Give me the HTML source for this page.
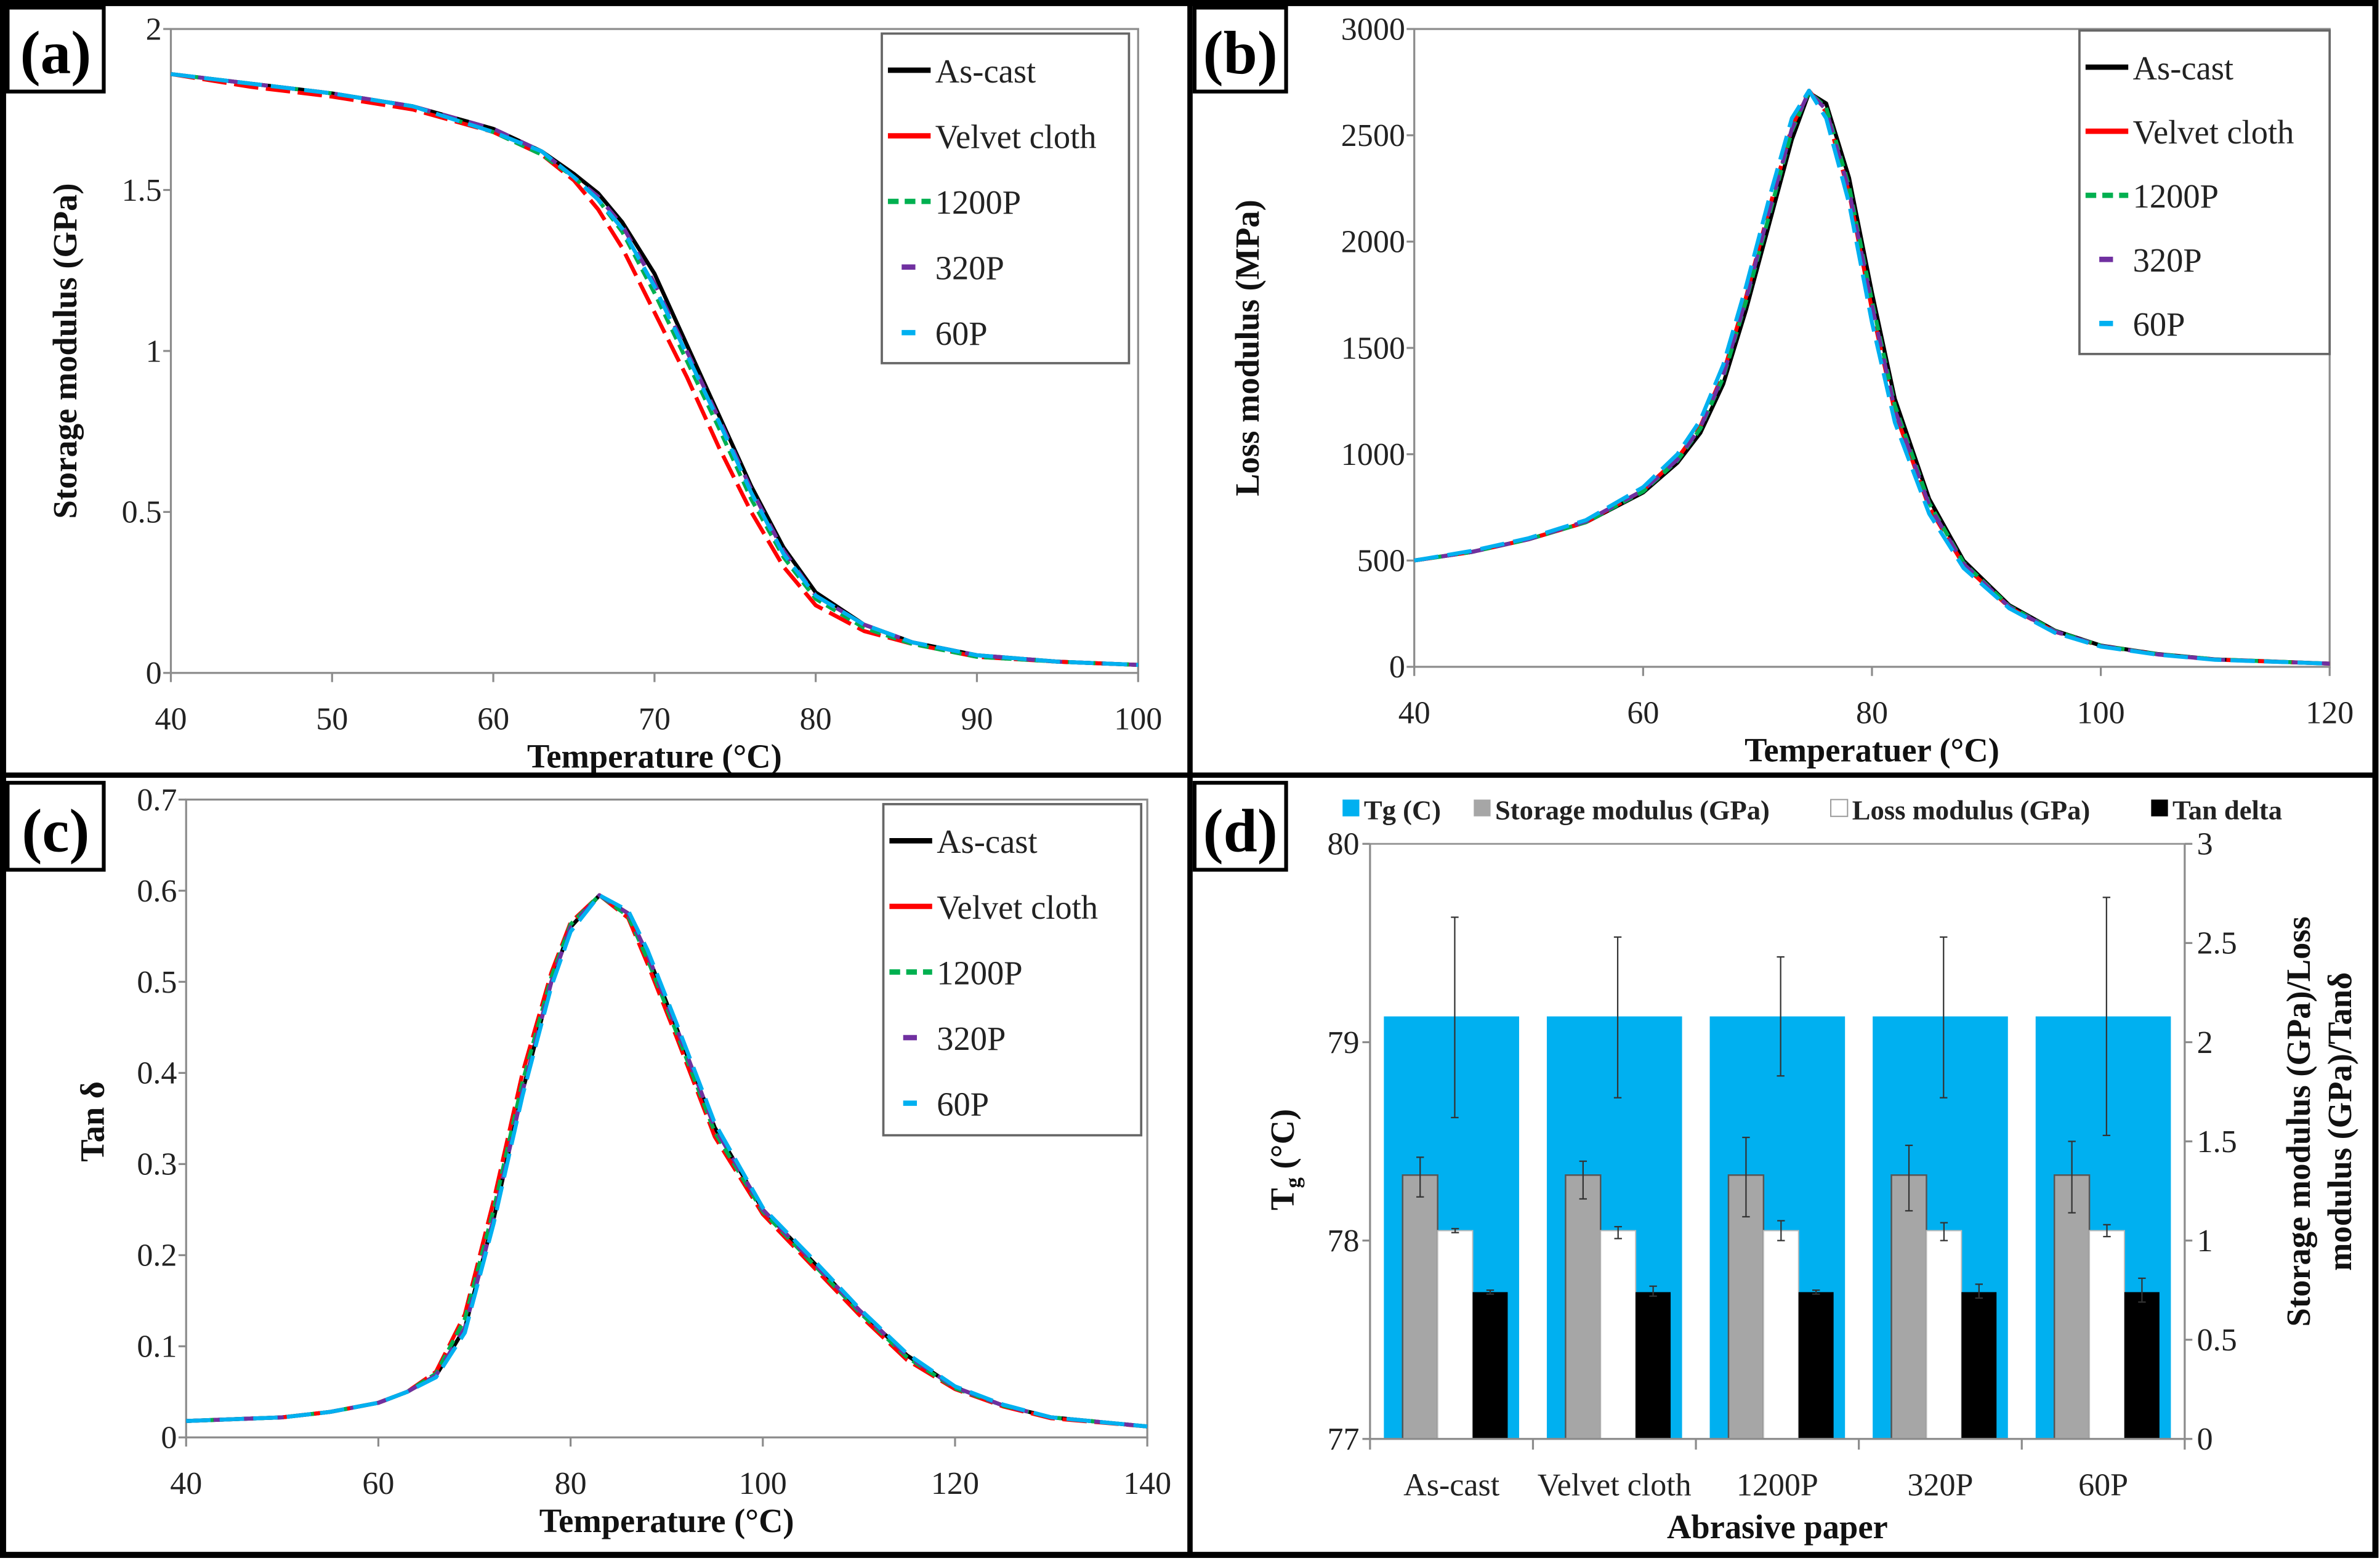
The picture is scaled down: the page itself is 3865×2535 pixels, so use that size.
<!DOCTYPE html>
<html><head><meta charset="utf-8"><style>
html,body{margin:0;padding:0;background:#fff;}
svg{display:block;font-family:"Liberation Serif","DejaVu Serif",serif;}
svg text{font-family:"Liberation Serif","DejaVu Serif",serif !important;}
</style></head><body>
<svg id="fig" width="3865" height="2535" viewBox="0 0 1560 1023" preserveAspectRatio="none" xmlns="http://www.w3.org/2000/svg" font-family="Liberation Serif, serif">
<rect x="0" y="0" width="1560" height="1023" fill="#fff"/>
</svg>
<script>
// ---------- DATA ----------
const seriesNames = ["As-cast","Velvet cloth","1200P","320P","60P"];
// Panel (a) storage modulus (GPa)
const aTemps = [40,45,50,55,60,63,65,66.5,68,70,72,74,76,78,80,83,86,90,95,100];
const aAsCast = [1.86,1.83,1.80,1.76,1.69,1.62,1.55,1.49,1.40,1.24,1.02,0.80,0.58,0.39,0.25,0.15,0.095,0.055,0.035,0.025];
const aVelvet = [1.86,1.82,1.79,1.75,1.68,1.61,1.53,1.44,1.32,1.12,0.92,0.70,0.50,0.33,0.21,0.13,0.09,0.05,0.035,0.025];
const a1200 = [1.86,1.83,1.80,1.76,1.68,1.61,1.54,1.47,1.37,1.18,0.97,0.76,0.54,0.36,0.23,0.14,0.09,0.05,0.035,0.025];
const a320 = [1.86,1.83,1.80,1.76,1.69,1.62,1.54,1.48,1.39,1.21,1.00,0.79,0.57,0.38,0.24,0.15,0.095,0.055,0.035,0.025];
const a60 = [1.86,1.83,1.80,1.76,1.68,1.62,1.54,1.47,1.38,1.20,0.99,0.78,0.56,0.37,0.24,0.15,0.095,0.055,0.035,0.025];
const aXTicks = [40,50,60,70,80,90,100];
const aYTicks = [0,0.5,1,1.5,2];
// Panel (b) loss modulus (MPa)
const bTemps = [40,45,50,55,60,63,65,67,69,71,73,74.5,76,78,80,82,85,88,92,96,100,105,110,120];
const bAsCast = [500,540,600,680,820,960,1100,1330,1680,2080,2480,2700,2650,2300,1760,1260,790,500,290,170,100,60,35,15];
const bVelvet = [500,540,600,680,830,980,1130,1380,1740,2150,2540,2710,2610,2230,1680,1200,750,480,280,165,98,58,34,15];
const b1200 = [500,540,600,680,825,970,1120,1360,1720,2120,2520,2705,2630,2260,1720,1230,770,490,285,168,99,59,35,15];
const b320 = [500,540,600,685,830,975,1125,1370,1730,2140,2530,2705,2620,2240,1700,1210,760,485,282,166,98,58,34,15];
const b60 = [500,545,605,690,845,1000,1160,1420,1790,2200,2580,2710,2580,2180,1620,1150,720,465,275,160,95,57,33,15];
const bXTicks = [40,60,80,100,120];
const bYTicks = [0,500,1000,1500,2000,2500,3000];
// Panel (c) tan delta
const cTemps = [40,50,55,60,63,66,69,72,75,78,80,83,86,88,91,95,100,105,110,115,120,125,130,140];
const cAsCast = [0.018,0.022,0.028,0.038,0.05,0.068,0.12,0.24,0.38,0.50,0.56,0.595,0.575,0.53,0.45,0.34,0.25,0.195,0.14,0.09,0.055,0.035,0.022,0.012];
const cVelvet = [0.018,0.022,0.028,0.038,0.05,0.072,0.135,0.26,0.40,0.51,0.565,0.595,0.57,0.52,0.44,0.33,0.245,0.19,0.135,0.085,0.053,0.034,0.021,0.012];
const c1200 = [0.018,0.022,0.028,0.038,0.05,0.07,0.13,0.25,0.39,0.505,0.563,0.595,0.572,0.525,0.445,0.335,0.248,0.193,0.138,0.088,0.054,0.035,0.022,0.012];
const c320 = [0.018,0.022,0.028,0.038,0.05,0.068,0.12,0.24,0.38,0.50,0.56,0.595,0.575,0.53,0.45,0.34,0.25,0.195,0.14,0.09,0.055,0.035,0.022,0.012];
const c60 = [0.018,0.022,0.028,0.038,0.05,0.066,0.115,0.235,0.375,0.495,0.555,0.595,0.578,0.535,0.455,0.345,0.252,0.198,0.142,0.092,0.056,0.036,0.022,0.012];
const cXTicks = [40,60,80,100,120,140];
const cYTicks = [0,0.1,0.2,0.3,0.4,0.5,0.6,0.7];
// Panel (d) bar chart
const dCategories = ["As-cast","Velvet cloth","1200P","320P","60P"];
const dTg = [79.13,79.13,79.13,79.13,79.13];
const dTgErrLo = [78.62,78.72,78.83,78.72,78.53];
const dTgErrHi = [79.63,79.53,79.43,79.53,79.73];
const dStorage = [1.33,1.33,1.33,1.33,1.33];
const dStorageErrLo = [1.22,1.21,1.12,1.15,1.14];
const dStorageErrHi = [1.42,1.40,1.52,1.48,1.50];
const dLoss = [1.05,1.05,1.05,1.05,1.05];
const dLossErrLo = [1.04,1.01,1.00,1.00,1.02];
const dLossErrHi = [1.06,1.07,1.10,1.09,1.08];
const dTan = [0.74,0.74,0.74,0.74,0.74];
const dTanErrLo = [0.73,0.72,0.73,0.71,0.69];
const dTanErrHi = [0.75,0.77,0.75,0.78,0.81];
const dLeftTicks = [77,78,79,80];
const dRightTicks = [0,0.5,1,1.5,2,2.5,3];

// ---------- HELPERS ----------
const NS = "http://www.w3.org/2000/svg";
const svg = document.getElementById('fig');
const FONT = '"Liberation Serif", "DejaVu Serif", serif';
function mk(tag, attrs, parent){
  const e = document.createElementNS(NS, tag);
  for (const k in attrs) e.setAttribute(k, attrs[k]);
  (parent||svg).appendChild(e);
  return e;
}
function txt(s, attrs, parent){ attrs['font-family'] = FONT; const t = mk('text', attrs, parent); t.textContent = s; return t; }
function lin(d0,d1,r0,r1){ return v => r0 + (v-d0)/(d1-d0)*(r1-r0); }
function fmt(v){ return String(v); }

const colors = ["#000000","#ff0000","#00b050","#7030a0","#00b0f0"];
const dashes = ["none","16 5","7 4","10 8","16 6"];

function linePanel(p){
  const g = mk('g', {});
  
  
  const X = lin(p.xmin,p.xmax,p.x0,p.x1), Y = lin(p.ymin,p.ymax,p.y1,p.y0);
  const frame = mk('rect', {x:p.x0,y:p.y0,width:p.x1-p.x0,height:p.y1-p.y0,fill:'none',stroke:'#8c8c8c','stroke-width':1.3}, g);
  
  
  p.yTicks.forEach(v=>{
    mk('line',{x1:p.x0-5,x2:p.x0,y1:Y(v),y2:Y(v),stroke:'#8c8c8c','stroke-width':1.3},g);
    const t = txt(fmt(v),{x:p.x0-6,y:Y(v)+7,'text-anchor':'end','font-size':21,fill:'#222'},g);
    
    
  });
  p.xTicks.forEach(v=>{
    mk('line',{x1:X(v),x2:X(v),y1:p.y1,y2:p.y1+6,stroke:'#8c8c8c','stroke-width':1.3},g);
    const t = txt(fmt(v),{x:X(v),y:p.y1+37,'text-anchor':'middle','font-size':21,fill:'#222'},g);
    
    
  });
  p.series.forEach((vals,i)=>{
    const d = vals.map((v,j)=>(j?'L':'M')+X(p.temps[j]).toFixed(2)+','+Y(v).toFixed(2)).join(' ');
    const path = mk('path',{d:d,fill:'none',stroke:colors[i],'stroke-width':2.6,'stroke-dasharray':dashes[i],'stroke-linejoin':'round'},g);
    
    
  });
  const L = p.legend;
  const lg = mk('g',{},g);
  
  
  mk('rect',{x:L.x,y:L.y,width:L.w,height:L.h,fill:'#fff',stroke:'#666','stroke-width':1.5},lg);
  seriesNames.forEach((n,i)=>{
    const yy = L.y + 24 + i*L.step;
    const da = i<2 ? 'none' : (i===2 ? '7 4' : '9 11');
    const off = i>=3 ? 9 : 0;
    mk('line',{x1:L.x+4+off,x2:L.x+32,y1:yy,y2:yy,stroke:colors[i],'stroke-width':3.5,'stroke-dasharray':da},lg);
    const t = txt(n,{x:L.x+35,y:yy+8,'font-size':22,fill:'#222'},lg);
    
    
  });
  const xt = txt(p.xTitle,{x:(p.x0+p.x1)/2,y:p.y1+62,'text-anchor':'middle','font-size':22,'font-weight':'bold',fill:'#111'},g);
  
  
  const yt = txt(p.yTitle,{x:0,y:0,'text-anchor':'middle','font-size':22,'font-weight':'bold',fill:'#111',transform:`translate(${p.yTitleX},${p.yTitleY}) rotate(-90)`},g);
  
  
}

linePanel({name:'panel-a-storage-modulus',x0:112,x1:746,y0:19,y1:441,xmin:40,xmax:100,ymin:0,ymax:2,
  temps:aTemps,series:[aAsCast,aVelvet,a1200,a320,a60],xTicks:aXTicks,yTicks:aYTicks,
  legend:{x:578,y:22,w:162,h:216,step:43},xTitle:'Temperature (°C)',yTitle:'Storage modulus (GPa)',yTitleX:50,yTitleY:230});
linePanel({name:'panel-b-loss-modulus',x0:927,x1:1527,y0:19,y1:437,xmin:40,xmax:120,ymin:0,ymax:3000,
  temps:bTemps,series:[bAsCast,bVelvet,b1200,b320,b60],xTicks:bXTicks,yTicks:bYTicks,
  legend:{x:1363,y:20,w:164,h:212,step:42},xTitle:'Temperatuer (°C)',yTitle:'Loss modulus (MPa)',yTitleX:825,yTitleY:228});
linePanel({name:'panel-c-tan-delta',x0:122,x1:752,y0:524,y1:942,xmin:40,xmax:140,ymin:0,ymax:0.7,
  temps:cTemps,series:[cAsCast,cVelvet,c1200,c320,c60],xTicks:cXTicks,yTicks:cYTicks,
  legend:{x:579,y:527,w:169,h:217,step:43},xTitle:'Temperature (°C)',yTitle:'Tan δ',yTitleX:68,yTitleY:735});

// ---------- Panel d ----------
(function(){
  const g = mk('g',{});
  
  
  const x0=898,x1=1432,y0=553,y1=943;
  const YL = lin(77,80,y1,y0), YR = lin(0,3,y1,y0);
  const cw = (x1-x0)/dCategories.length;
  mk('line',{x1:x0,x2:x1,y1:y0,y2:y0,stroke:'#999','stroke-width':1.2},g);
  dCategories.forEach((c,i)=>{
    const cx = x0 + cw*i;
    const b = mk('rect',{x:cx+cw*0.085,y:YL(dTg[i]),width:cw*0.83,height:y1-YL(dTg[i]),fill:'#00b0f0'},g);
    
    
    const bw = cw*0.215, bx = cx+cw*0.2;
    const s = mk('rect',{x:bx,y:YR(dStorage[i]),width:bw,height:y1-YR(dStorage[i]),fill:'#a6a6a6',stroke:'#555','stroke-width':1},g);
    
    
    const l = mk('rect',{x:bx+bw,y:YR(dLoss[i]),width:bw,height:y1-YR(dLoss[i]),fill:'#fff',stroke:'#bbb','stroke-width':0.8},g);
    
    
    const t = mk('rect',{x:bx+2*bw,y:YR(dTan[i]),width:bw,height:y1-YR(dTan[i]),fill:'#000'},g);
    
    
    function err(x,ya,yb){
      mk('line',{x1:x,x2:x,y1:ya,y2:yb,stroke:'#333','stroke-width':0.9},g);
      mk('line',{x1:x-2.5,x2:x+2.5,y1:ya,y2:ya,stroke:'#333','stroke-width':0.9},g);
      mk('line',{x1:x-2.5,x2:x+2.5,y1:yb,y2:yb,stroke:'#333','stroke-width':0.9},g);
    }
    err(cx+cw*0.52, YL(dTgErrLo[i]), YL(dTgErrHi[i]));
    err(bx+bw/2, YR(dStorageErrLo[i]), YR(dStorageErrHi[i]));
    err(bx+1.5*bw, YR(dLossErrLo[i]), YR(dLossErrHi[i]));
    err(bx+2.5*bw, YR(dTanErrLo[i]), YR(dTanErrHi[i]));
    const ct = txt(c,{x:cx+cw/2,y:y1+37,'text-anchor':'middle','font-size':21,fill:'#222'},g);
    
    
  });
  mk('line',{x1:x0,x2:x0,y1:y0,y2:y1,stroke:'#8c8c8c','stroke-width':1.3},g);
  mk('line',{x1:x1,x2:x1,y1:y0,y2:y1,stroke:'#8c8c8c','stroke-width':1.3},g);
  mk('line',{x1:x0,x2:x1,y1:y1,y2:y1,stroke:'#8c8c8c','stroke-width':1.3},g);
  for(let i=0;i<=dCategories.length;i++) mk('line',{x1:x0+cw*i,x2:x0+cw*i,y1:y1,y2:y1+7,stroke:'#8c8c8c','stroke-width':1.3},g);
  dLeftTicks.forEach(v=>{
    mk('line',{x1:x0-5,x2:x0,y1:YL(v),y2:YL(v),stroke:'#8c8c8c','stroke-width':1.3},g);
    const t = txt(fmt(v),{x:x0-7,y:YL(v)+7,'text-anchor':'end','font-size':21,fill:'#222'},g);
    
    
  });
  dRightTicks.forEach(v=>{
    mk('line',{x1:x1,x2:x1+5,y1:YR(v),y2:YR(v),stroke:'#8c8c8c','stroke-width':1.3},g);
    const t = txt(fmt(v),{x:x1+8,y:YR(v)+7,'text-anchor':'start','font-size':21,fill:'#222'},g);
    
    
  });
  const xt = txt('Abrasive paper',{x:(x0+x1)/2,y:1008,'text-anchor':'middle','font-size':22,'font-weight':'bold',fill:'#111'},g);
  
  
  const yl = txt('',{x:0,y:0,'text-anchor':'middle','font-size':22,'font-weight':'bold',fill:'#111',transform:'translate(848,760) rotate(-90)'},g);
  yl.innerHTML = 'T<tspan font-size="14" dy="4">g</tspan><tspan dy="-4"> (°C)</tspan>';
  
  
  const yr1 = txt('Storage modulus (GPa)/Loss',{x:0,y:0,'text-anchor':'middle','font-size':22,'font-weight':'bold',fill:'#111',transform:'translate(1514,735) rotate(-90)'},g);
  
  
  const yr2 = txt('modulus (GPa)/Tanδ',{x:0,y:0,'text-anchor':'middle','font-size':22,'font-weight':'bold',fill:'#111',transform:'translate(1541,735) rotate(-90)'},g);
  
  
  const legCols = ['#00b0f0','#a6a6a6','#fff','#000'];
  const legText = ['Tg (C)','Storage modulus (GPa)','Loss modulus (GPa)','Tan delta'];
  const legX = [880,966,1200,1410];
  legText.forEach((s,i)=>{
    mk('rect',{x:legX[i],y:524,width:11,height:11,fill:legCols[i],stroke:i===2?'#999':'none','stroke-width':0.8},g);
    const t = txt(s,{x:legX[i]+14,y:537,'font-size':18,'font-weight':'bold',fill:'#222'},g);
    
    
  });
})();

// ---------- Panel labels & borders ----------
[['(a)',5,5,63,55],['(b)',783,5,60,55],['(c)',5,513,63,57],['(d)',783,513,60,57]].forEach(a=>{
  mk('rect',{x:a[1],y:a[2],width:a[3],height:a[4],fill:'#fff',stroke:'#000','stroke-width':2.5});
  const t = txt(a[0],{x:a[1]+a[3]/2,y:a[2]+a[4]-12,'text-anchor':'middle','font-size':40,'font-weight':'bold',fill:'#000'});
  
  
});
mk('rect',{x:2,y:2,width:1555,height:1017,fill:'none',stroke:'#000','stroke-width':4});
mk('line',{x1:780,x2:780,y1:2,y2:1019,stroke:'#000','stroke-width':3.5});
mk('line',{x1:2,x2:1557,y1:508,y2:508,stroke:'#000','stroke-width':3.5});
</script>
</body></html>
